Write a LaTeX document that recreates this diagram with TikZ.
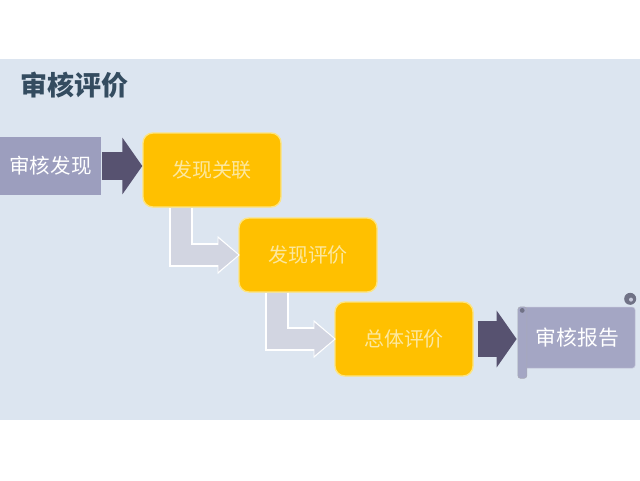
\documentclass[tikz,border=0pt]{standalone}
\usepackage{fontspec}
\newfontfamily\cjk{Noto Sans CJK SC}
\usetikzlibrary{arrows.meta, positioning, calc}
\definecolor{panelcolor}{RGB}{220,229,240}
\definecolor{titlecolor}{RGB}{52,76,96}
\definecolor{findcolor}{RGB}{156,158,190}
\definecolor{forwardcolor}{RGB}{87,82,112}
\definecolor{stagecolor}{RGB}{255,192,0}
\definecolor{stageborder}{RGB}{253,228,128}
\definecolor{stagetext}{RGB}{252,232,160}
\definecolor{bendcolor}{RGB}{210,213,225}
\definecolor{scrollcolor}{RGB}{164,166,196}
\definecolor{curlcolor}{RGB}{112,114,134}
\tikzset{
	finding/.style={fill=findcolor, shape=rectangle, minimum width=2.525cm, minimum height=1.45cm, text=white, font=\cjk\fontsize{14.6}{15}\selectfont},
	stage/.style={draw=stageborder, line width=1pt, fill=stagecolor, shape=rectangle, rounded corners=7pt, minimum width=3.45cm, minimum height=1.85cm, text=stagetext, font=\cjk\fontsize{14.2}{15}\selectfont},
	reportbox/.style={draw=white!35!scrollcolor, fill=scrollcolor, shape=rectangle, rounded corners=2pt, minimum width=2.875cm, minimum height=1.525cm, text=white, font=\cjk\fontsize{14.8}{15}\selectfont},
	forward/.style={line width=0.72cm, draw=forwardcolor, -{Triangle[length=0.5cm, width=1.4cm]}},
	downstep/.style={line width=0.52cm, draw=bendcolor, line join=miter, -{Triangle[length=0.5cm, width=0.8cm]},
		preaction={draw=white, line width=0.6cm, shorten >=-0.04cm, -{Triangle[length=0.56cm, width=0.92cm]}}},
	rod/.style={draw=curlcolor!60!white, fill=scrollcolor, rounded corners=2pt}
}

\begin{document}
\begin{tikzpicture}[node distance = 2cm, on grid]
	% page and panel
	\fill[white] (0,0) rectangle (16,12);
	\useasboundingbox (0,0) rectangle (16,12);
	\fill[panelcolor] (0,1.5) rectangle (16,10.525);

	% title
	\node (title) [anchor=west, inner sep=0pt, text=titlecolor, font=\cjk\bfseries\fontsize{19.2}{20}\selectfont] at (0.5,9.875) {审核评价};

	% steps
	\node (find) [finding] at (1.2625,7.85) {审核发现};
	\node (rel) [stage] at (5.3,7.75) {发现关联};
	\node (eval) [stage, below right=2.125cm and 2.4cm of rel] {发现评价};
	\node (total) [stage, below right=2.1cm and 2.4cm of eval] {总体评价};
	\node (report) [reportbox] at (14.44,3.56) {审核报告};

	% arrows
	\draw[forward] ($(find.east)+(0.02,0)$) -- (find.east -| rel.west);
	\draw[downstep] ($(rel.south)+(-0.775,0)$) |- (eval.west);
	\draw[downstep] ($(eval.south)+(-0.775,0)$) |- (total.west);
	\draw[forward, line width=0.92cm] ($(total.east)+(0.1,0)$) -- ($(total.east -| report.west)+(-0.08,0)$);

	% scroll rolls
	\draw[rod] ($(report.north west)+(-0.05,0)$) rectangle ($(report.south west)+(0.175,-0.25)$);
	\fill[curlcolor] ($(report.north west)+(0.06,-0.09)$) circle (0.06);
	\fill[curlcolor] ($(report.north east)+(-0.13,0.2)$) circle (0.15);
	\fill[scrollcolor!60!white] ($(report.north east)+(-0.11,0.18)$) circle (0.05);
\end{tikzpicture}
\end{document}
